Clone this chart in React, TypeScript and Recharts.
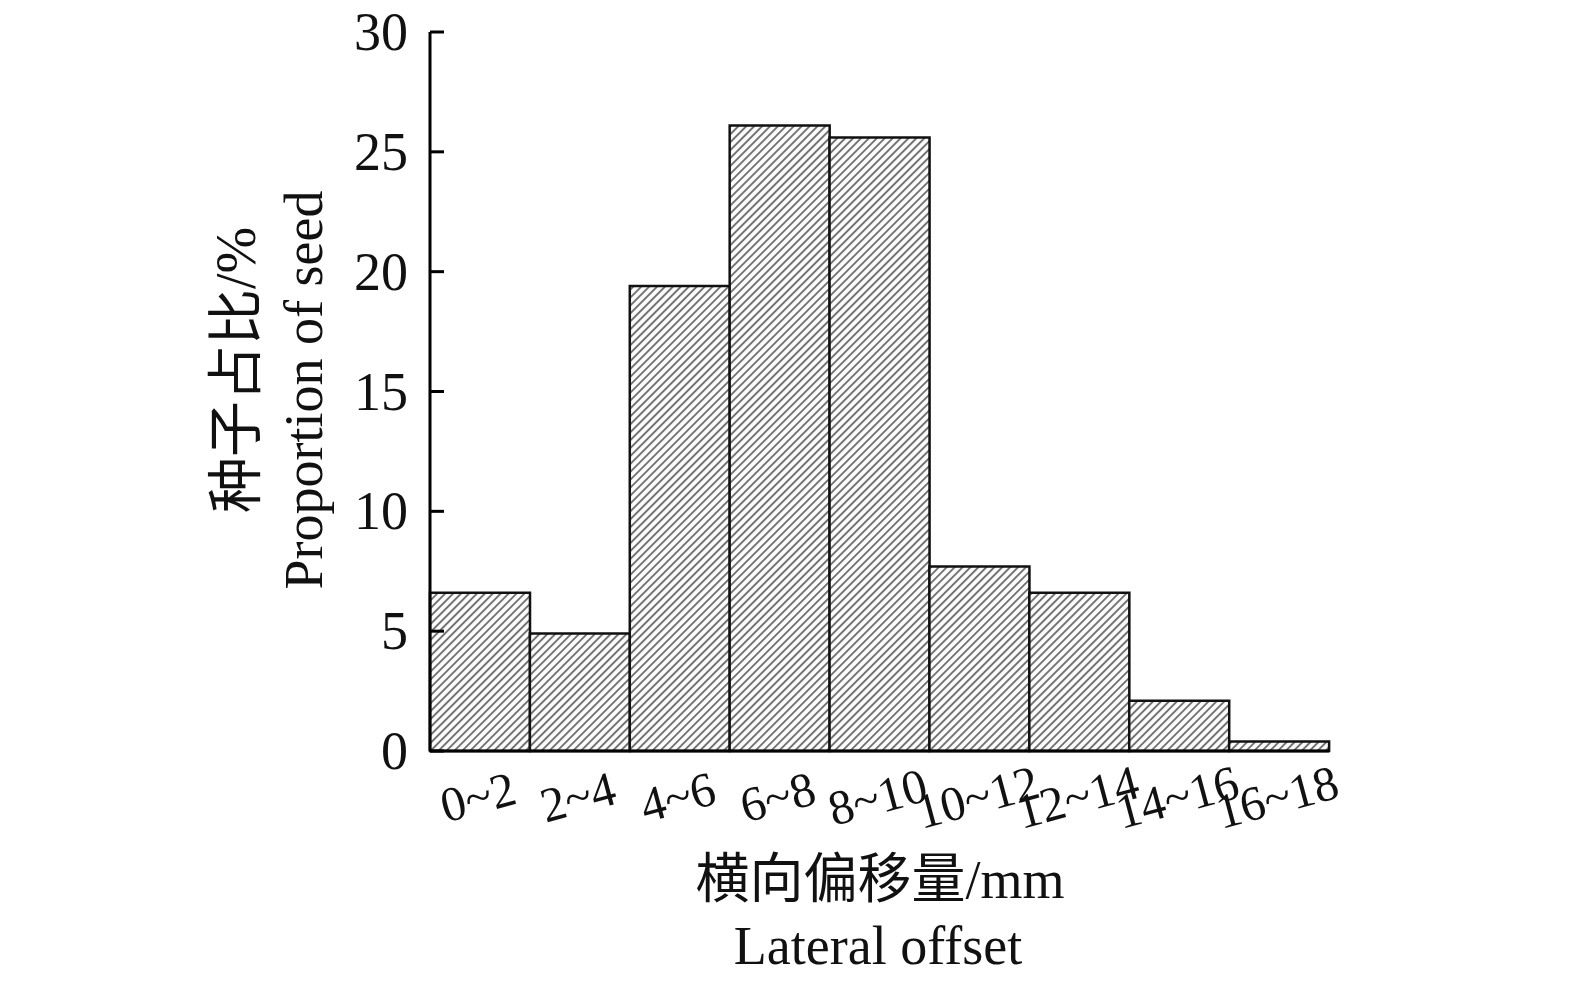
import React from 'react';
import { BarChart, Bar, XAxis, YAxis, Label } from 'recharts';

const categories = ['0~2', '2~4', '4~6', '6~8', '8~10', '10~12', '12~14', '14~16', '16~18'];
const proportion = [6.6, 4.9, 19.4, 26.1, 25.6, 7.7, 6.6, 2.1, 0.4];
const yTicks = [0, 5, 10, 15, 20, 25, 30];

const yTitleCn = '种子占比/%';
const yTitleEn = 'Proportion of seed';
const xTitleCn = '横向偏移量/mm';
const xTitleEn = 'Lateral offset';

const FONT = '"Liberation Serif", "Noto Sans CJK SC", serif';

const data = categories.map((name, i) => ({ name, value: proportion[i] }));

const YTick = (props: any) => {
  const { x, y, payload } = props;
  return (
    <g>
      <line x1={x} y1={y} x2={x + 14} y2={y} stroke="#000" strokeWidth={3} />
      <text x={x - 22} y={y} textAnchor="end" dominantBaseline="central" fontFamily={FONT} fontSize={54} fill="#111">
        {payload.value}
      </text>
    </g>
  );
};

const XTick = (props: any) => {
  const { x, y, payload } = props;
  return (
    <g transform={`translate(${x - 2}, ${y + 46}) rotate(-15)`}>
      <text x={0} y={0} textAnchor="middle" dominantBaseline="central" fontFamily={FONT} fontSize={49} fill="#111">
        {payload.value}
      </text>
    </g>
  );
};

const YTitle = () => (
  <g>
    <text transform="translate(236, 370) rotate(-90)" textAnchor="middle" dominantBaseline="central" fontFamily={FONT} fontSize={56} fill="#111">
      {yTitleCn}
    </text>
    <text transform="translate(304, 390) rotate(-90)" textAnchor="middle" dominantBaseline="central" fontFamily={FONT} fontSize={54} fill="#111">
      {yTitleEn}
    </text>
  </g>
);

const XTitle = () => (
  <g>
    <text x={880} y={880} textAnchor="middle" dominantBaseline="central" fontFamily={FONT} fontSize={54} fill="#111">
      {xTitleCn}
    </text>
    <text x={878} y={946} textAnchor="middle" dominantBaseline="central" fontFamily={FONT} fontSize={54} fill="#111">
      {xTitleEn}
    </text>
  </g>
);

const App: React.FC = () => {
  return (
    <div style={{ position: 'absolute', left: 0, top: 0, background: '#fff' }}>
      <svg width={0} height={0} style={{ position: 'absolute' }}>
        <defs>
          <pattern id="hatch" patternUnits="userSpaceOnUse" width={5.6} height={10} patternTransform="rotate(45)">
            <rect x={0} y={0} width={5.6} height={10} fill="#fbfbfb" />
            <rect x={0} y={0} width={1.9} height={10} fill="#727272" />
          </pattern>
        </defs>
      </svg>
      <BarChart
        width={1575}
        height={986}
        data={data}
        barCategoryGap={0}
        margin={{ top: 32, right: 246, bottom: 135, left: 300 }}
      >
        <XAxis
          dataKey="name"
          height={100}
          axisLine={{ stroke: '#000', strokeWidth: 3 }}
          tickLine={false}
          tickSize={0}
          tickMargin={0}
          interval={0}
          tick={<XTick />}
        >
          <Label content={<XTitle />} />
        </XAxis>
        <YAxis
          width={130}
          domain={[0, 30]}
          ticks={yTicks}
          axisLine={{ stroke: '#000', strokeWidth: 3 }}
          tickLine={false}
          tickSize={0}
          tickMargin={0}
          tick={<YTick />}
        >
          <Label content={<YTitle />} />
        </YAxis>
        <Bar dataKey="value" fill="url(#hatch)" stroke="#111" strokeWidth={2.5} isAnimationActive={false} />
      </BarChart>
    </div>
  );
};

export default App;
